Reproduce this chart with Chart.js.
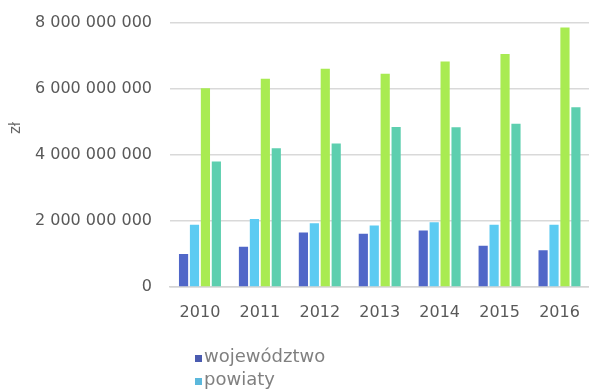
<!DOCTYPE html>
<html lang="pl">
<head>
<meta charset="utf-8">
<title>Wydatki jednostek samorządu terytorialnego</title>
<script src="https://cdn.jsdelivr.net/npm/chart.js@4/dist/chart.umd.min.js"></script>
<style>
  html, body { margin: 0; padding: 0; background: #fff; }
  #wrap { width: 589px; height: 392px; overflow: hidden; position: relative; }
  canvas { display: block; position: absolute; left: 0; top: -5px; }
</style>
</head>
<body>
<div id="wrap"><canvas id="chart" width="596" height="397"></canvas></div>
<script>
// Lata
const years = ['2010', '2011', '2012', '2013', '2014', '2015', '2016'];

// Kwoty w złotych dla poszczególnych szczebli samorządu
const wojewodztwo = [1.00e9, 1.22e9, 1.65e9, 1.61e9, 1.71e9, 1.25e9, 1.11e9];
const powiaty     = [1.88e9, 2.06e9, 1.93e9, 1.86e9, 1.96e9, 1.88e9, 1.88e9];
const gminy       = [6.01e9, 6.30e9, 6.60e9, 6.45e9, 6.82e9, 7.05e9, 7.85e9];
const miastaNpp   = [3.80e9, 4.20e9, 4.34e9, 4.84e9, 4.83e9, 4.94e9, 5.44e9];

const seriesNames = ['województwo', 'powiaty', 'gminy', 'miasta na prawach powiatu'];
const axisTitle = 'zł';

const palette = ['#5067C8', '#5CCBF2', '#A9EB52', '#5DCFAF'];
const legendPalette = ['#4A5BB0', '#5BB8DC', '#9ED64E', '#58BFA2'];
const FONT = '"DejaVu Sans", sans-serif';

function spaced(v) {
  return String(Math.round(v)).replace(/\B(?=(\d{3})+(?!\d))/g, ' ');
}

// Pionowy opis osi oraz legenda w kolumnie pod wykresem
const extras = {
  id: 'extras',
  afterDraw(chart) {
    const ctx = chart.ctx;
    ctx.save();
    ctx.fillStyle = '#666';
    ctx.font = '15px ' + FONT;
    ctx.textAlign = 'center';
    ctx.textBaseline = 'middle';
    ctx.translate(16, 133);
    ctx.rotate(-Math.PI / 2);
    ctx.fillText(axisTitle, 0, 0);
    ctx.restore();

    ctx.save();
    ctx.font = '18px ' + FONT;
    ctx.textBaseline = 'middle';
    chart.data.datasets.forEach((ds, i) => {
      const y = 363 + i * 23;
      ctx.fillStyle = legendPalette[i];
      ctx.fillRect(195, y - 3, 7, 7);
      ctx.fillStyle = '#808080';
      ctx.textAlign = 'left';
      ctx.fillText(ds.label, 204, y - 1);
    });
    ctx.restore();
  }
};

const seriesData = [wojewodztwo, powiaty, gminy, miastaNpp];

new Chart(document.getElementById('chart'), {
  type: 'bar',
  data: {
    labels: years,
    datasets: seriesData.map((values, i) => ({
      label: seriesNames[i],
      data: values,
      backgroundColor: palette[i],
      borderWidth: 0
    }))
  },
  options: {
    responsive: false,
    animation: false,
    devicePixelRatio: 1,
    datasets: {
      bar: { categoryPercentage: 0.73, barPercentage: 0.84 }
    },
    layout: { padding: { left: 0, right: 2, top: 0, bottom: 0 } },
    plugins: {
      legend: { display: false },
      tooltip: { enabled: false }
    },
    scales: {
      x: {
        grid: { display: false, drawTicks: false },
        border: { display: true, color: '#d4d4d4', width: 1.5 },
        ticks: { color: '#595959', font: { family: FONT, size: 16 }, padding: 16 },
        afterFit(scale) { scale.height = 105; }
      },
      y: {
        min: 0,
        max: 8e9,
        grid: { color: '#d9d9d9', lineWidth: 1.5, drawTicks: false },
        border: { display: false },
        ticks: {
          stepSize: 2e9,
          color: '#595959',
          font: { family: FONT, size: 16 },
          padding: 18,
          callback: (v) => spaced(v)
        },
        afterFit(scale) { scale.width = 170; }
      }
    }
  },
  plugins: [extras]
});
</script>
</body>
</html>
